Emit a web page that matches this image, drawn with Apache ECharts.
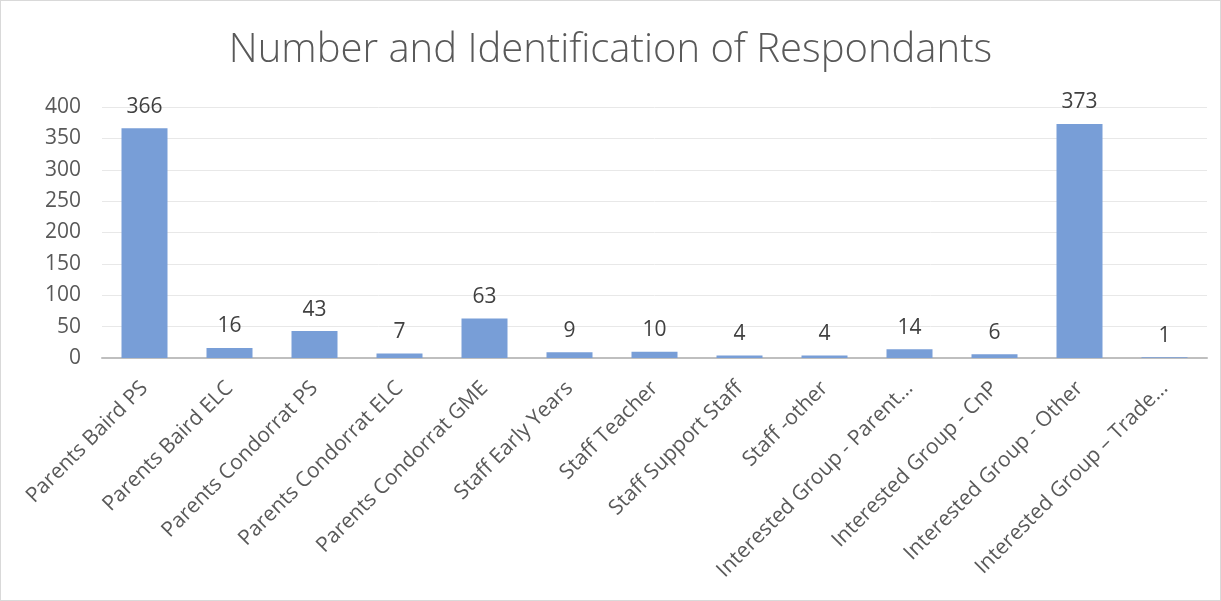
<!DOCTYPE html>
<html><head><meta charset="utf-8">
<script src="https://cdn.jsdelivr.net/npm/echarts@6/dist/echarts.min.js"></script>
<style>html,body{margin:0;padding:0;background:#fff}#c{width:1219px;height:599px;border:1px solid #d9d9d9}</style>
</head><body><div id="c"></div>
<script>
const categories = ["Parents Baird PS","Parents Baird ELC","Parents Condorrat PS","Parents Condorrat ELC","Parents Condorrat GME","Staff Early Years","Staff Teacher","Staff Support Staff","Staff -other","Interested Group - Parent…","Interested Group - CnP","Interested Group - Other","Interested Group – Trade…"];
const values = [366,16,43,7,63,9,10,4,4,14,6,373,1];
const yTicks = [0,50,100,150,200,250,300,350,400];
const titleText = "Number and Identification of Respondants";

const chart = echarts.init(document.getElementById('c'));
const font = '"Open Sans", sans-serif';
chart.setOption({
  animation:false,
  title:{text:titleText,left:'center',top:25,textStyle:{fontFamily:font,fontWeight:300,fontSize:40,color:'#595959'}},
  grid:{left:101,right:13,top:106,bottom:242,containLabel:false},
  xAxis:{type:'category',data:categories,
    axisLine:{lineStyle:{color:'#BFBFBF',width:2}},axisTick:{show:false},
    axisLabel:{rotate:45,interval:0,margin:27,fontFamily:font,fontSize:21,color:'#595959'}},
  yAxis:{type:'value',min:yTicks[0],max:yTicks[yTicks.length-1],interval:50,
    axisLine:{show:false},axisTick:{show:false},
    splitLine:{lineStyle:{color:'#E8E8E8',width:1}},
    axisLabel:{margin:21,fontFamily:font,fontSize:21,color:'#595959'}},
  series:[{type:'bar',data:values,barWidth:46,
    itemStyle:{color:'#789ED7'},
    label:{show:true,position:'top',distance:11,fontFamily:font,fontSize:21,color:'#404040'}}]
});
</script></body></html>
